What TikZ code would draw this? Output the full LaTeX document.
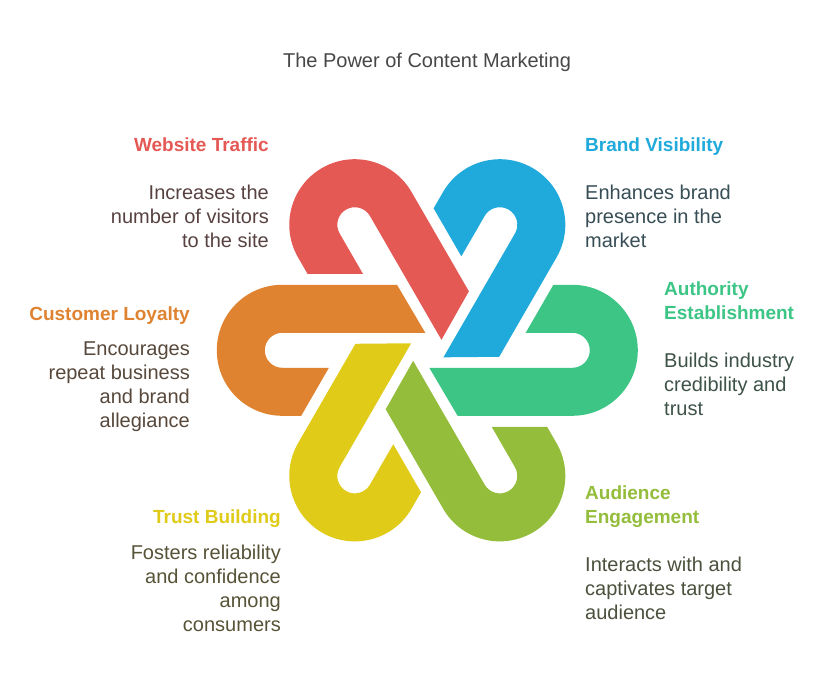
\documentclass[tikz,border=0pt]{standalone}
\usepackage{fontspec}
\setmainfont{Liberation Sans}
\definecolor{colR}{RGB}{229,89,85}
\definecolor{colB}{RGB}{31,170,219}
\definecolor{colG}{RGB}{61,197,134}
\definecolor{colL}{RGB}{147,189,58}
\definecolor{colY}{RGB}{223,203,24}
\definecolor{colO}{RGB}{223,131,48}
\colorlet{txtR}{colR!20!black!80}
\colorlet{txtB}{colB!20!black!80}
\colorlet{txtG}{colG!20!black!80}
\colorlet{txtL}{colL!20!black!80}
\colorlet{txtY}{colY!20!black!80}
\colorlet{txtO}{colO!20!black!80}
\tikzset{
  head/.style={inner sep=0pt, font=\fontsize{19}{24}\selectfont\bfseries, align=#1},
  desc/.style={inner sep=0pt, font=\fontsize{20}{24}\selectfont, align=#1},
}
\newcommand{\hookshape}[3]{% angle, rotation, color
  \begin{scope}[shift={(427.3,335.7)}, shift={(#1:145)}, rotate=#2]
    \fill[#3] (114.7,65.5) -- (0,65.5) arc[start angle=90,end angle=270,radius=65.5]
      -- (18.9,-65.5) -- (46.6,-17.5) -- (0,-17.5)
      arc[start angle=270,end angle=90,radius=17.5] -- (143,17.5) -- cycle;
  \end{scope}}
\begin{document}
\begin{tikzpicture}[x=1pt,y=1pt]
\useasboundingbox (0,0) rectangle (831,686);
\fill[white] (0,0) rectangle (831,686);
% hooks
\hookshape{180}{0}{colO}
\hookshape{120}{300}{colR}
\hookshape{60}{240}{colB}
\hookshape{0}{180}{colG}
\hookshape{-60}{120}{colL}
\hookshape{-120}{60}{colY}
% title
\node[anchor=base, inner sep=0pt, font=\fontsize{20}{24}\selectfont, text=black!72] (title) at (427,618) {The Power of Content Marketing};
% Website Traffic (base = last line)
\node[head=right, anchor=base east, text=colR] (h1) at (269,534) {Website Traffic};
\node[desc=right, anchor=base east, text=txtR] (d1) at (269,438) {Increases the\\number of visitors\\to the site};
% Brand Visibility
\node[head=left, anchor=base west, text=colB] (h2) at (585,534) {Brand Visibility};
\node[desc=left, anchor=base west, text=txtB] (d2) at (585,438) {Enhances brand\\presence in the\\market};
% Authority Establishment
\node[head=left, anchor=base west, text=colG] (h3) at (664,366) {Authority\\Establishment};
\node[desc=left, anchor=base west, text=txtG] (d3) at (664,270) {Builds industry\\credibility and\\trust};
% Customer Loyalty
\node[head=right, anchor=base east, text=colO] (h4) at (190,365) {Customer Loyalty};
\node[desc=right, anchor=base east, text=txtO] (d4) at (190,258) {Encourages\\repeat business\\and brand\\allegiance};
% Trust Building
\node[head=right, anchor=base east, text=colY] (h5) at (281,162) {Trust Building};
\node[desc=right, anchor=base east, text=txtY] (d5) at (281,54) {Fosters reliability\\and confidence\\among\\consumers};
% Audience Engagement
\node[head=left, anchor=base west, text=colL] (h6) at (585,162) {Audience\\Engagement};
\node[desc=left, anchor=base west, text=txtL] (d6) at (585,66) {Interacts with and\\captivates target\\audience};
\end{tikzpicture}
\end{document}
